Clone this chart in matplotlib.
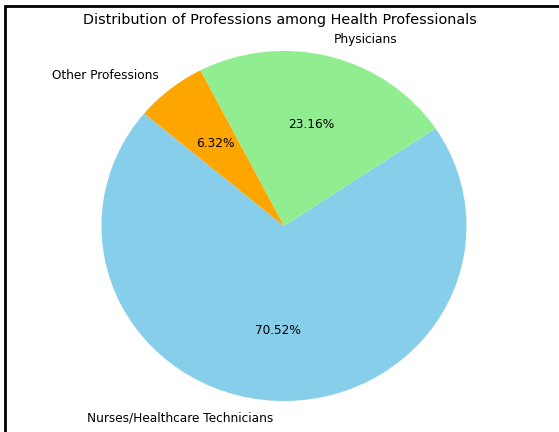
import matplotlib.pyplot as plt
from matplotlib.patches import Rectangle

labels = ['Nurses/Healthcare Technicians', 'Physicians', 'Other Professions']
shares = [70.52, 23.16, 6.32]
colors = ['skyblue', 'lightgreen', 'orange']

fig = plt.figure(figsize=(5.59, 4.32), dpi=100)
ax = fig.add_axes([0.0, 0.0, 1.0, 1.0])

ax.pie(shares, labels=labels, colors=colors, autopct='%1.2f%%',
       startangle=140, textprops={'fontsize': 8.7})
# slightly wider than tall
ax.set_aspect('auto')
ax.set_xlim(-1.556, 1.507)
ax.set_ylim(-1.177, 1.291)

fig.text(0.5, 1 - 20 / 432,
         'Distribution of Professions among Health Professionals',
         ha='center', va='center', fontsize=10.4)

# frame around the figure
fig.patches.append(Rectangle((5 / 559, -0.1), 1.2, 1.1 - 6 / 432,
                             transform=fig.transFigure, fill=False,
                             edgecolor='black', linewidth=2))

plt.savefig('out.png')
